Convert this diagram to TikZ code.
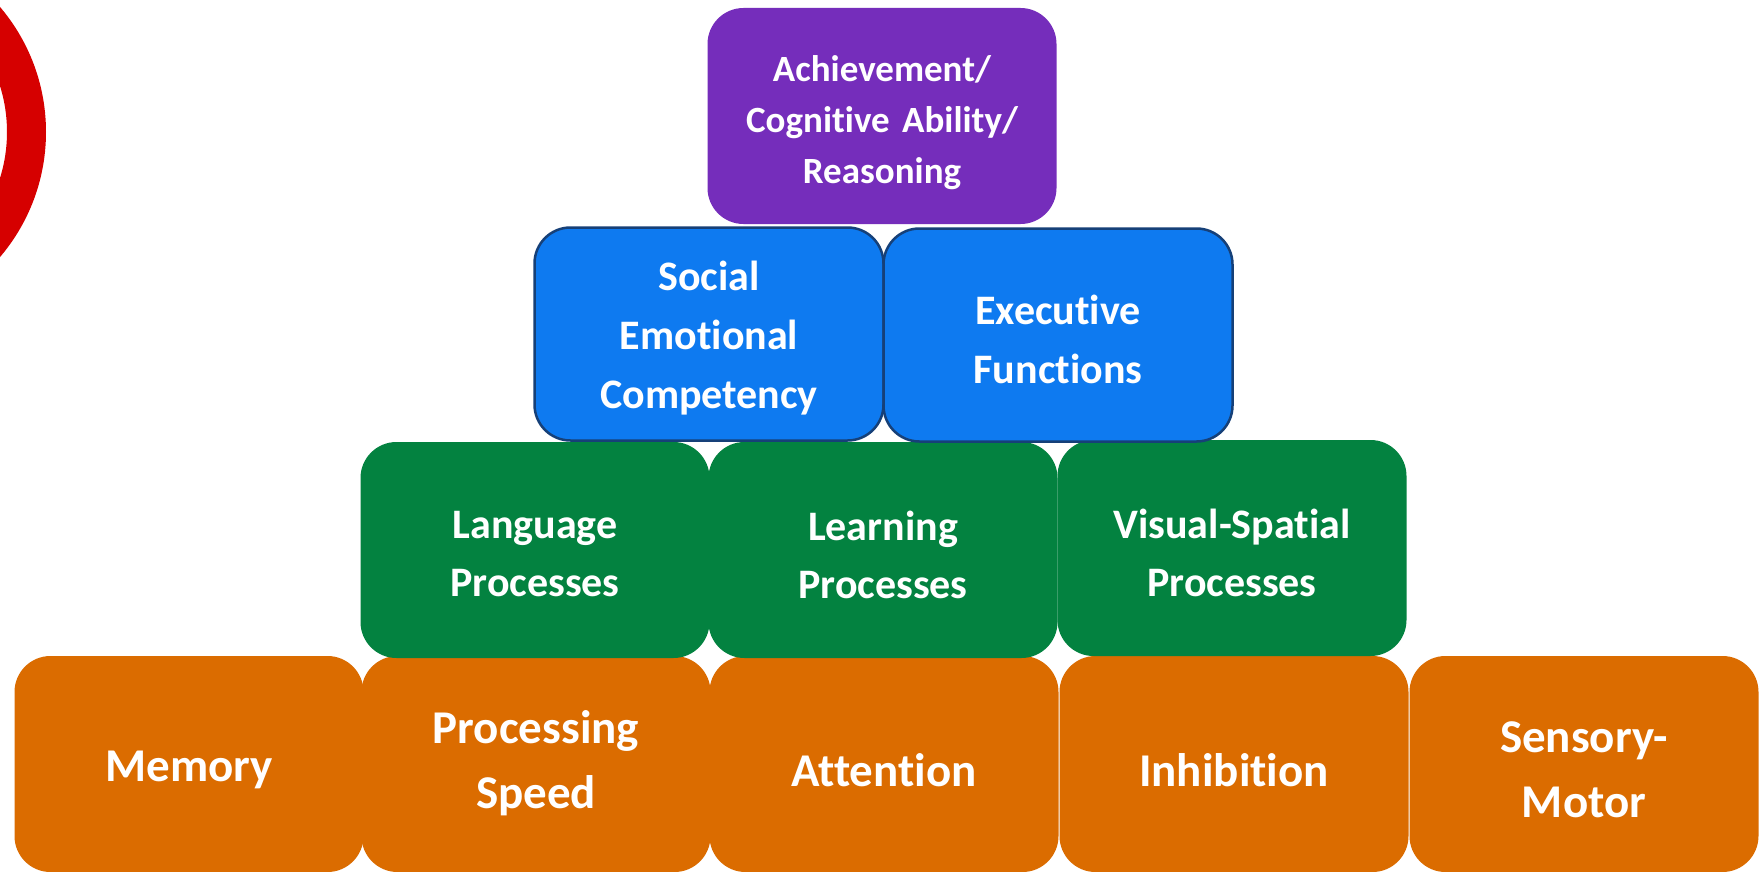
\documentclass[tikz,border=0pt]{standalone}
\usepackage{fontspec}
\setmainfont{Carlito}[Ligatures=NoCommon]
\definecolor{cpurple}{RGB}{117,45,187}
\definecolor{cblue}{RGB}{14,122,240}
\definecolor{cgreen}{RGB}{3,130,64}
\definecolor{corange}{RGB}{219,108,0}
\definecolor{cred}{RGB}{214,0,0}
\definecolor{cborder}{RGB}{22,64,120}
\begin{document}
\begin{tikzpicture}[x=1pt,y=-1pt,
  block/.style={rectangle, rounded corners=36pt, minimum width=349pt, minimum height=216pt,
    inner sep=0pt},
  txt/.style={text=white, align=center, text width=330pt, inner sep=0pt},
  purplebox/.style={block, fill=cpurple},
  purpletext/.style={txt, yshift=-7pt, font=\bfseries\fontsize{37}{51}\selectfont},
  bluebox/.style={block, fill=cblue, draw=cborder, line width=2.5pt, minimum height=213pt},
  bluetext/.style={txt, yshift=-4pt, font=\bfseries\fontsize{42}{59}\selectfont},
  greenbox/.style={block, fill=cgreen},
  greentext/.style={txt, yshift=-4.5pt, font=\bfseries\fontsize{42}{58}\selectfont},
  orangebox/.style={block, fill=corange},
  orangetext/.style={txt, yshift=-6pt, font=\bfseries\fontsize{47}{65}\selectfont}]
\useasboundingbox (0,0) rectangle (1759,872);
\clip (0,0) rectangle (1759,872);
\fill[white] (0,0) rectangle (1759,872);
% red ring
\draw[cred, line width=39pt] (-147,132) circle[radius=173.5pt];
% bottom row
\node[orangebox, label={[orangetext]center:{Memory}}] (mem) at (189,764) {};
\node[orangebox, label={[orangetext, yshift=6.5pt]center:{Processing\\Speed}}] (ps) at (536,764) {};
\node[orangebox, label={[orangetext]center:{Attention}}] (att) at (884,764) {};
\node[orangebox, label={[orangetext]center:{Inhibition}}] (inh) at (1234,764) {};
\node[orangebox, label={[orangetext]center:{Sensory-\\Motor}}] (sm) at (1584,764) {};
% green row
\node[greenbox, label={[greentext]center:{Language\\Processes}}] (lang) at (535,550) {};
\node[greenbox, label={[greentext]center:{Learning\\Processes}}] (learn) at (883,550) {};
\node[greenbox, label={[greentext]center:{Visual-Spatial\\Processes}}] (vis) at (1232,548) {};
% blue row
\node[bluebox, label={[bluetext]center:{Social\\Emotional\\Competency}}] (sec) at (709,334) {};
\node[bluebox, label={[bluetext]center:{Executive\\Functions}}] (ef) at (1058,335) {};
% top
\node[purplebox, label={[purpletext]center:{Achievement/\\Cognitive Ability/\\Reasoning}}] (ach) at (882,116) {};
\end{tikzpicture}
\end{document}
